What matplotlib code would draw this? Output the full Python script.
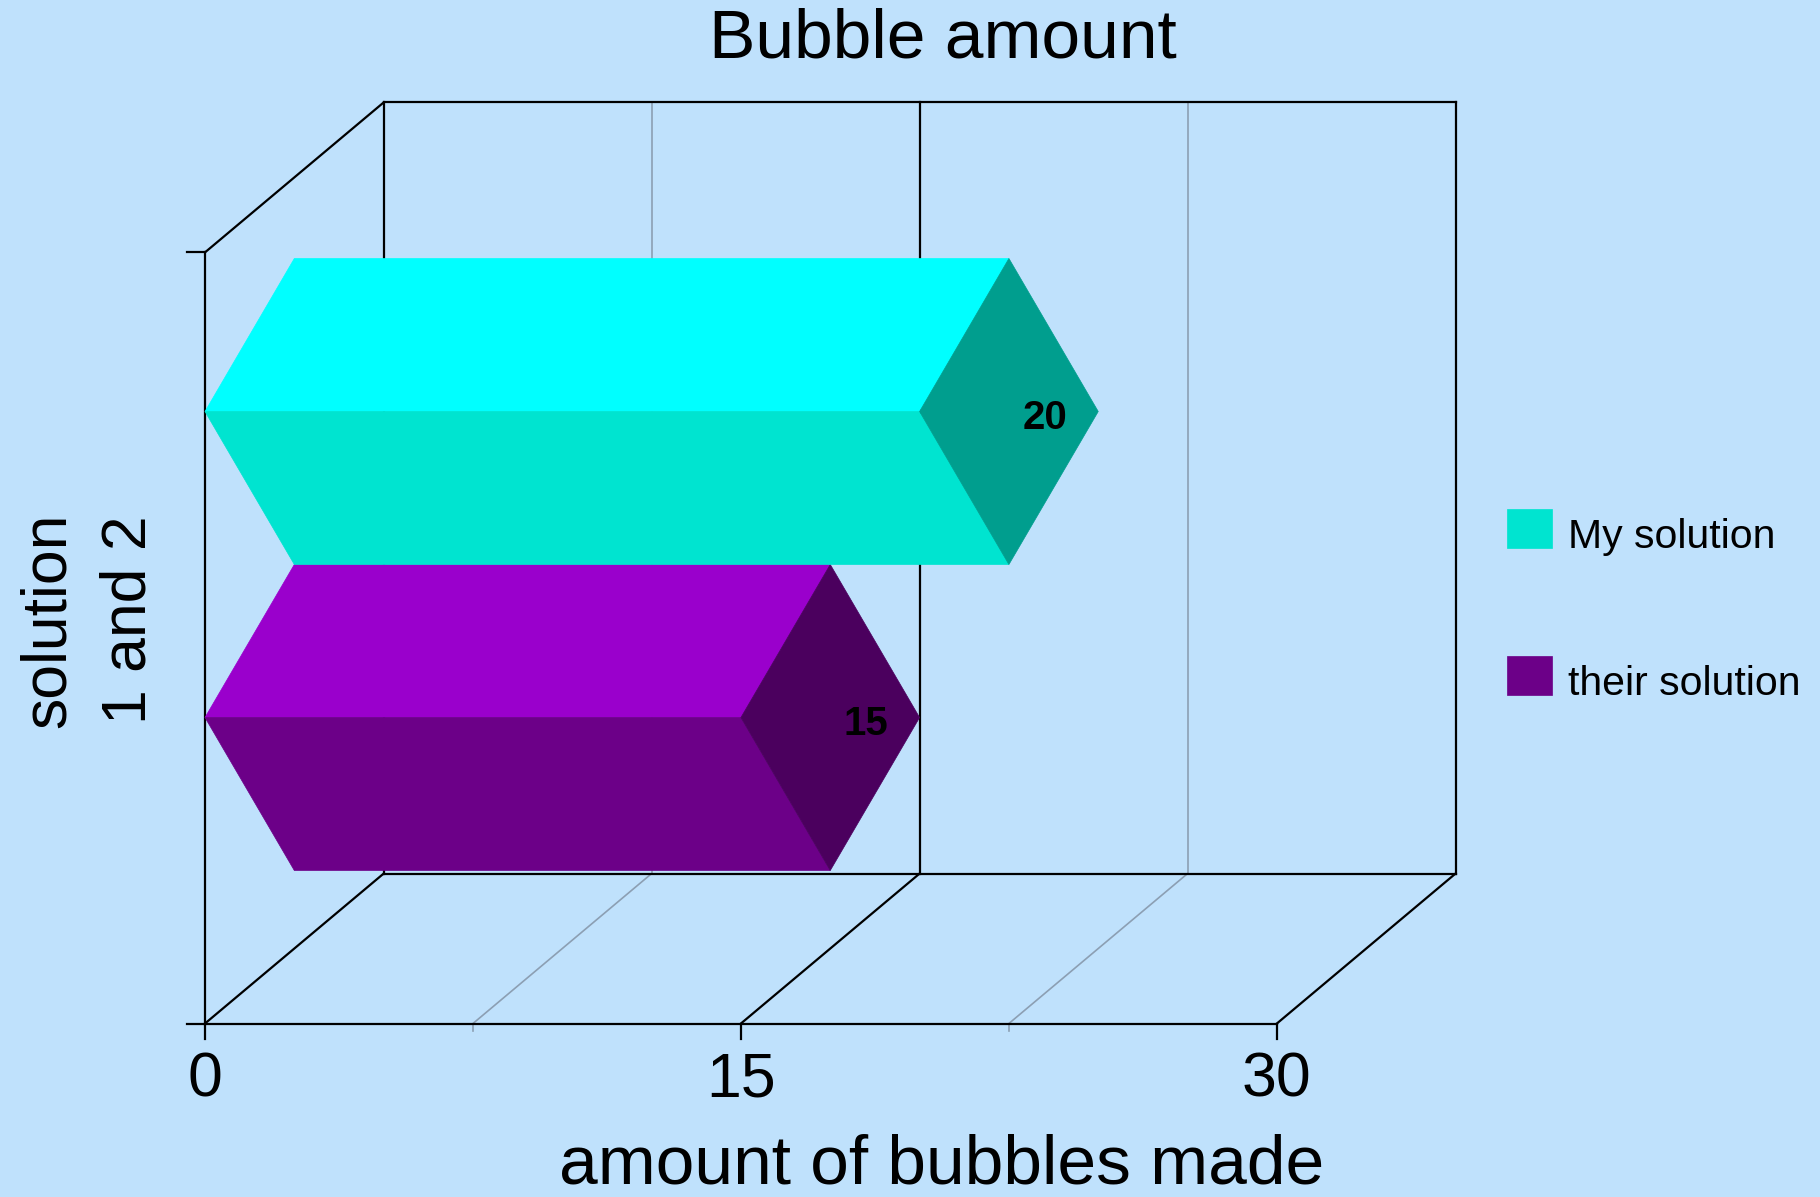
import matplotlib
matplotlib.use("Agg")
import matplotlib.pyplot as plt
from matplotlib.patches import Polygon, Rectangle

plt.rcParams['font.family'] = ['Liberation Sans', 'DejaVu Sans']

# ---- data ----
series_names = ["their solution", "My solution"]
values = [15, 20]
categories = [1, 2]
x_ticks = [0, 15, 30]
minor_grid = [7.5, 22.5]
title = "Bubble amount"
x_label = "amount of bubbles made"
y_label_lines = ["solution", "1 and 2"]

top_colors = ["#9A00CC", "#00FFFF"]
front_colors = ["#6C0088", "#00E4D0"]
cap_colors = ["#4B005E", "#009E8E"]

# ---- layout ----
W, H = 1820, 1197
x0_px, floor_px = 205.0, 1023.5
px_per_val, px_per_h = 35.73, 306.0
depth_dx, depth_dy = 5.0, 0.49
wall_top = 2.52
half_h = 0.5
bg = "#BFE1FC"
grid_grey = "#8C9FB3"

fig = plt.figure(figsize=(W / 100, H / 100), dpi=100, facecolor=bg)
ax = fig.add_axes([0, 0, 1, 1])
ax.set_facecolor(bg)
ax.set_xlim(-x0_px / px_per_val, (W - x0_px) / px_per_val)
ax.set_ylim((floor_px - H) / px_per_h, floor_px / px_per_h)
ax.axis("off")

xmax = x_ticks[-1]
lw_k = 1.6
lw_g = 1.2

# minor grid (grey) on floor and back wall
for g in minor_grid:
    ax.plot([g, g + depth_dx], [0, depth_dy], color=grid_grey, lw=lw_g, zorder=1)
    ax.plot([g + depth_dx, g + depth_dx], [depth_dy, wall_top + depth_dy], color=grid_grey, lw=lw_g, zorder=1)
    ax.plot([g, g], [0, -0.025], color=grid_grey, lw=lw_g, zorder=1)

# major grid (black)
for t in x_ticks:
    ax.plot([t, t + depth_dx], [0, depth_dy], color="black", lw=lw_k, zorder=2)
    ax.plot([t + depth_dx, t + depth_dx], [depth_dy, wall_top + depth_dy], color="black", lw=lw_k, zorder=2)
    ax.plot([t, t], [0, -0.05], color="black", lw=lw_k, zorder=2)
    ax.text(t, -0.24, str(t), ha="center", va="baseline", fontsize=45, color="black")

# frame
ax.plot([0, xmax], [0, 0], color="black", lw=lw_k, zorder=2)
ax.plot([depth_dx, xmax + depth_dx], [depth_dy, depth_dy], color="black", lw=lw_k, zorder=2)
ax.plot([depth_dx, xmax + depth_dx], [wall_top + depth_dy] * 2, color="black", lw=lw_k, zorder=2)
ax.plot([0, 0], [0, wall_top], color="black", lw=lw_k, zorder=2)
ax.plot([0, depth_dx], [wall_top, wall_top + depth_dy], color="black", lw=lw_k, zorder=2)
for yy in [0, wall_top]:
    ax.plot([-0.5, 0], [yy, yy], color="black", lw=lw_k, zorder=2)

# bars (diamond-section prisms)
for c, v, tc, fc, cc in zip(categories, values, top_colors, front_colors, cap_colors):
    hx = depth_dx / 2
    top = [(0, c), (hx, c + half_h), (v + hx, c + half_h), (v, c)]
    low = [(0, c), (v, c), (v + hx, c - half_h), (hx, c - half_h)]
    cap = [(v, c), (v + hx, c + half_h), (v + depth_dx, c), (v + hx, c - half_h)]
    for pts, col in [(top, tc), (low, fc), (cap, cc)]:
        ax.add_patch(Polygon(pts, closed=True, facecolor=col, edgecolor=col, lw=0.5, zorder=5))
    ax.text(v + 3.5, c - 0.02, str(v), ha="center", va="center", fontsize=29,
            fontweight="bold", color="black", zorder=6)

# titles
fig.text(943 / W, 1 - 57 / H, title, ha="center", va="baseline", fontsize=50)
fig.text(942 / W, 1 - 1184 / H, x_label, ha="center", va="baseline", fontsize=50)
for line, bx in zip(y_label_lines, [65, 145]):
    fig.text(bx / W, 1 - 620 / H, line, rotation=90, rotation_mode="anchor",
             ha="center", va="baseline", fontsize=45)

# legend
legend_order = [1, 0]
for k, idx in enumerate(legend_order):
    top_y = 509 + k * 147
    fig.add_artist(Rectangle((1507 / W, 1 - (top_y + 39) / H), 45 / W, 39 / H,
                             transform=fig.transFigure, facecolor=front_colors[idx],
                             edgecolor=front_colors[idx], lw=0.5))
    fig.text(1568 / W, 1 - (top_y + 39) / H, series_names[idx], ha="left",
             va="baseline", fontsize=29.5)

fig.savefig("out.png", dpi=100, facecolor=bg)
